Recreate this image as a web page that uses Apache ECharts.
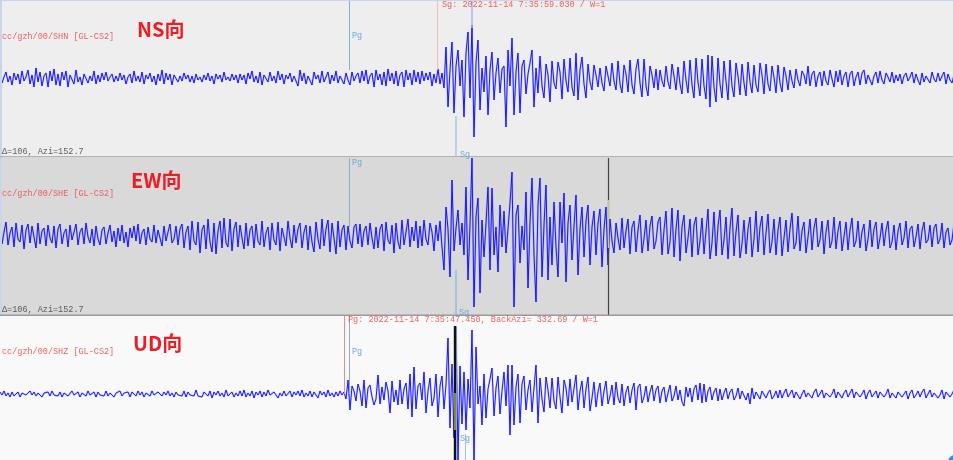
<!DOCTYPE html>
<html><head><meta charset="utf-8">
<style>html,body{margin:0;padding:0;background:#f9f9f9}#c{width:953px;height:460px}#c canvas{filter:blur(0.3px)}</style>
<script src="https://cdn.jsdelivr.net/npm/echarts@6/dist/echarts.min.js"></script>
</head><body><div id="c"></div>
<script>
// Waveform amplitudes, one value per sample, sample spacing 2 units, 30 samples per row
const sampleStep = 2;
const nsValues = [
3,-5,1,6,-4,2,-7,5,-2,4,-6,7,-3,1,8,-6,3,-9,10,-4,6,-8,2,5,-9,7,-3,9,-7,4,
-8,6,-2,7,-9,3,5,-6,8,-4,1,-7,4,6,-5,2,-3,7,-6,3,-4,5,-2,6,-3,1,4,-4,2,-3,
5,-2,3,-6,1,4,-5,7,-3,2,-4,6,-6,3,-1,5,-4,2,-7,4,-3,8,-6,5,-2,4,-7,3,5,-4,
2,-3,5,-1,3,-4,2,-5,4,-2,1,-4,3,-2,5,-3,2,-6,4,-1,3,-4,6,-2,1,-3,4,-2,3,-5,
4,-2,3,-6,5,-1,7,-4,2,-5,6,-7,3,1,-4,6,-3,2,-5,7,-2,4,-6,3,-1,5,-4,2,-3,-8,
8,-3,5,-6,2,4,-7,6,-1,3,-5,7,-4,1,6,-6,3,-3,7,-5,2,4,-6,5,-2,-7,6,-3,2,5,
-5,7,-3,8,-6,2,5,-9,8,-2,4,-7,6,-8,9,-3,5,-6,7,-8,3,6,-9,8,-2,5,-7,8,-4,6,
-6,7,-3,5,-2,6,-8,4,-5,9,-6,5,-10,31,-29,8,36,-35,12,28,-8,18,-39,25,46,-20,53,-59,15,38,
-32,10,-14,22,-37,8,26,-22,5,20,-15,9,12,-49,28,-8,40,-37,6,25,-35,12,18,-16,4,15,28,-29,10,-15,
22,-8,-20,14,3,-24,17,-5,-11,16,6,-21,19,-3,-14,20,-9,-18,25,-22,8,21,-6,-20,14,-4,-12,13,3,-9,
10,-5,-13,12,2,-8,15,-3,-12,17,-6,-15,13,4,-14,18,-7,-16,9,19,-5,-19,19,-8,-18,12,3,-10,9,-12,
8,-3,-9,12,-4,-11,14,2,-12,11,-6,-16,17,-2,-15,18,-7,-20,20,-4,-18,19,-8,-21,23,-29,22,-9,-24,20,
-6,-20,17,-3,-22,18,-8,-19,15,2,-17,14,-5,-18,16,-4,-15,13,-7,-14,15,3,-16,14,-6,-13,12,1,-15,13,
-5,-14,11,2,-12,8,-3,-10,9,-2,-8,7,3,-6,12,-8,4,7,-9,2,6,-8,7,-3,-7,8,-1,-9,7,-4,
8,-7,2,6,-9,4,7,-8,1,6,-7,5,8,-6,3,5,-7,2,6,-5,7,-2,-6,5,1,-4,6,-5,3,-3,
4,-6,2,5,-3,1,6,-5,4,-2,-7,5,-4,2,3,-5,6,-1,-4,5,-3,2,6,-6,4,-2,-5,3,4,-4
];
const ewValues = [
6,-9,3,13,-10,2,8,-12,12,-4,-7,10,-14,5,11,-8,9,-2,-13,12,-9,4,7,-11,10,-3,-8,9,-13,6,
11,-9,2,6,-12,10,-5,-7,11,-10,3,7,-9,12,-2,-8,6,-11,9,-4,-10,5,8,-9,2,10,-7,4,-12,7,
-6,10,-8,3,-12,7,-3,9,-6,11,-9,2,6,-10,8,-4,-7,10,-8,5,7,-11,9,-6,3,11,-8,-4,9,-10,
6,11,-13,3,9,-15,14,-6,-10,13,-18,5,10,-14,16,-7,-17,12,-19,4,14,-13,17,-8,-12,16,-16,6,13,-12,
10,-3,-14,12,-11,5,9,-13,11,-6,-10,14,-12,2,8,-15,12,-5,-10,13,-16,7,9,-11,14,-3,-13,10,-8,6,
12,-13,3,10,-15,9,-7,-17,13,-4,-14,16,-11,6,15,-17,12,-3,-19,14,-12,5,10,-15,9,-6,-13,8,11,-9,
11,-12,4,9,-10,12,-3,-14,8,-13,6,11,-16,13,-5,-9,10,-18,12,-7,-14,15,-10,3,16,-12,8,-6,14,-13,
9,-11,15,-4,-10,12,3,-16,10,-6,14,-12,-35,28,6,-42,55,-16,7,25,-10,12,-20,48,-45,10,77,-72,18,37,
-58,15,-22,12,48,-35,47,-20,8,-37,30,-12,24,-18,6,32,63,-72,20,30,-28,9,-15,43,-53,12,57,-20,-67,30,
57,-42,10,50,-45,18,-30,33,-12,-42,33,-8,42,-47,12,30,-25,9,40,-40,6,28,-22,14,30,-30,8,24,-20,12,
26,-32,6,28,-30,16,-6,-18,12,-3,-15,17,-13,4,16,-19,8,14,-17,5,20,-18,-4,15,-16,9,19,-14,-6,13,
18,-20,5,24,-19,-7,27,-22,6,25,-26,8,20,-18,-3,16,-22,10,18,-20,-6,17,-19,4,26,-24,-8,23,-21,9,
25,-20,-5,18,-24,7,27,-21,3,20,-23,-9,15,-19,6,18,-22,-4,24,-17,8,19,-20,2,21,-18,-7,16,-20,5,
18,-21,-3,15,-17,6,22,-14,-8,19,-16,4,13,-18,-2,16,-15,7,17,-12,-5,14,-19,3,15,-13,-6,18,-14,4,
14,-16,-2,13,-15,5,17,-12,-6,14,-13,3,11,-16,-4,15,-12,6,13,-14,-3,12,-11,5,14,-13,-7,10,-15,4,
12,-10,-3,14,-13,6,9,-12,-2,11,-14,4,13,-8,-5,10,-12,7,11,-9,-4,12,-13,3,7,-10,-5,11,-9,6
];
const udValues = [
2,-1,3,-2,1,-3,2,-2,0,2,-3,1,2,-1,-2,3,-1,2,-2,1,3,-3,1,-1,2,-2,3,-1,1,-2,
2,-3,1,2,-2,0,3,-1,-2,2,-3,1,2,-2,3,-1,0,2,-3,2,-1,1,-2,3,-2,1,2,-3,1,-1,
3,-2,1,-1,2,-3,2,0,-2,3,-1,2,-3,1,1,-2,3,-1,-3,2,0,-2,2,-1,3,-2,1,-3,2,-1,
1,-2,3,-3,2,-1,1,-2,4,-2,0,-3,2,1,-2,3,-4,2,-1,3,-2,1,-3,4,-2,0,2,-3,1,-2,
3,-2,4,-3,1,-2,3,-4,2,-1,3,-3,2,-2,4,-1,-3,2,3,-4,1,-2,3,-2,0,3,-3,2,-1,3,
-2,4,-3,1,-2,3,-3,2,0,-4,3,-1,2,-3,4,-2,1,-3,2,-2,3,-1,2,-5,14,-16,8,3,-7,10,
3,-12,14,-14,6,9,-3,-11,-5,19,-10,7,-6,12,3,-19,13,-8,4,-11,14,-10,5,11,-15,20,-23,27,-15,8,
11,-6,22,-19,3,16,-12,-4,20,-23,8,18,-15,9,56,-34,30,-44,67,-66,28,-30,22,-36,15,-14,64,-66,47,-10,
8,-31,20,-24,5,15,26,-22,6,18,-20,3,22,-12,29,-41,29,-31,7,20,-29,10,18,-16,4,14,-18,6,29,-29,
16,-5,-18,17,4,-14,16,-7,-15,17,-3,-19,14,6,-12,15,-8,-10,19,-16,3,13,-14,5,17,-17,-4,12,-13,2,
11,-12,3,13,-10,-2,9,-11,12,-4,-9,10,-12,2,8,-9,4,11,-16,7,10,-9,-3,8,-8,2,9,-7,4,8,
-9,3,7,-8,1,9,-7,-2,8,-6,4,-8,-12,7,-3,6,-8,5,9,-6,11,-9,10,-8,3,7,-6,2,6,-7,
5,-6,1,6,-5,2,5,-6,-2,6,-5,3,4,-6,1,-10,6,-5,2,4,-5,3,5,-4,1,4,-5,-2,3,-4,
4,-4,1,5,-3,-1,4,-4,2,3,-5,0,4,-3,1,3,-4,2,5,-3,-1,4,-4,1,3,-3,0,5,-4,2,
3,-4,1,4,-3,-1,5,-4,2,3,-3,0,4,-5,1,4,-3,-2,3,-4,2,4,-3,0,5,-4,1,3,-4,2,
4,-3,0,3,-5,1,4,-4,-1,3,-3,2,5,-4,0,4,-3,1,3,-4,-1,4,-5,2,3,-3,0,4,-4,2
];
const panelTitles = ['NS向', 'EW向', 'UD向'];
const stationLabels = ['cc/gzh/00/SHN [GL-CS2]', 'cc/gzh/00/SHE [GL-CS2]', 'cc/gzh/00/SHZ [GL-CS2]'];
const distanceLabel = 'Δ=106, Azi=152.7';
const pickLabels = ['Sg: 2022-11-14 7:35:59.030 / W=1', 'Pg: 2022-11-14 7:35:47.450, BackAzi= 332.69 / W=1'];

const traceColor = '#0808f5';
const panels = [
  {top:1,   height:155, min:-78, max:77, bg:'#eeeeee', values:nsValues},
  {top:158, height:157, min:-80, max:77, bg:'#d9d9d9', values:ewValues},
  {top:316, height:144, min:-66, max:78, bg:'#f9f9f9', values:udValues}
];
// vertical pick markers: [x, yFrom, yTo, colour, width]
const picks = [
  [[349,77,8,'#7fb0d6',1],[437,77,8,'#f0bcbc',1],[472,77,50,'#b4b4ee',1.5],[456,-38,-78,'#a8c8e6',1.5]],
  [[349,77,8,'#7fb0d6',1],[456,-35,-80,'#92bcdc',1.5],[608,77,-80,'#444444',1.2],[608,35,-13,'#c9c978',1.2]],
  [[344,78,0,'#f08a8a',1],[349,78,0,'#7fb0d6',1],[456,68,-66,'#a8c8e6',1.5],[454.5,68,-66,'#111111',2.4],[454.5,1,-36,'#8a8a20',2],[465,-40,-66,'#9fc4e2',1]]
];

const grid=[], xAxis=[], yAxis=[], series=[];
panels.forEach((p,i)=>{
  grid.push({left:0,right:0,top:p.top,height:p.height,show:true,backgroundColor:p.bg,borderWidth:0,containLabel:false});
  xAxis.push({type:'value',gridIndex:i,min:0,max:953,show:false});
  yAxis.push({type:'value',gridIndex:i,min:p.min,max:p.max,show:false});
  const pts=p.values.map((v,k)=>[k*sampleStep,v]);
  series.push({type:'line',xAxisIndex:i,yAxisIndex:i,data:pts,showSymbol:false,silent:true,animation:false,z:2,
    lineStyle:{color:traceColor,width:2.2,opacity:0.15}});
  series.push({type:'line',xAxisIndex:i,yAxisIndex:i,data:pts,showSymbol:false,silent:true,animation:false,z:3,
    lineStyle:{color:traceColor,width:0.9},
    markLine:{silent:true,symbol:'none',animation:false,label:{show:false},
      data:picks[i].map(m=>[
        {xAxis:m[0],yAxis:m[1],lineStyle:{color:m[3],width:m[4],type:'solid'}},
        {xAxis:m[0],yAxis:m[2]}
      ])}});
});

const mono='"Liberation Mono","DejaVu Sans Mono",monospace';
const small=(t,x,y,fill)=>({type:'text',z:10,style:{text:t,x,y,fill,font:'8.5px '+mono,textVerticalAlign:'middle',opacity:.85}});
const big=(t,x,y)=>({type:'text',z:10,style:{text:t,x,y,fill:'#ee1c25',font:'bold 20px "Noto Sans CJK SC","Noto Sans",sans-serif',textVerticalAlign:'middle'}});
const bar=(x,y,w,h,fill)=>({type:'rect',z:9,shape:{x,y,width:w,height:h},style:{fill}});
const red='#f04848', blue='#5a9fd0', dark='#444444';
const graphic=[
  bar(0,0,953,1,'#c9d6e8'),
  bar(0,0,2,316,'#c9d6e8'),
  bar(0,156,953,1.5,'#b4b4b4'),
  bar(0,314.5,953,1.5,'#9a9a9a'),
  big(panelTitles[0],137,29), big(panelTitles[1],131,180), big(panelTitles[2],133,343),
  small(stationLabels[0],2,37,red), small(stationLabels[1],2,194,red), small(stationLabels[2],2,352,red),
  small(distanceLabel,2,152,dark), small(distanceLabel,2,310,dark),
  small(pickLabels[0],442,5,red), small(pickLabels[1],348,320,red),
  small('Pg',352,36,blue), small('Pg',352,163,blue), small('Pg',352,352,blue),
  small('Sg',460,155,blue), small('Sg',459,313,blue), small('Sg',460,439,blue),
  {type:'circle',z:10,shape:{cx:955,cy:462,r:7},style:{fill:'#3d86ea'}}
];
const chart=echarts.init(document.getElementById('c'),null,{renderer:'canvas'});
chart.setOption({animation:false,backgroundColor:'#f9f9f9',grid,xAxis,yAxis,series,graphic});
</script></body></html>
